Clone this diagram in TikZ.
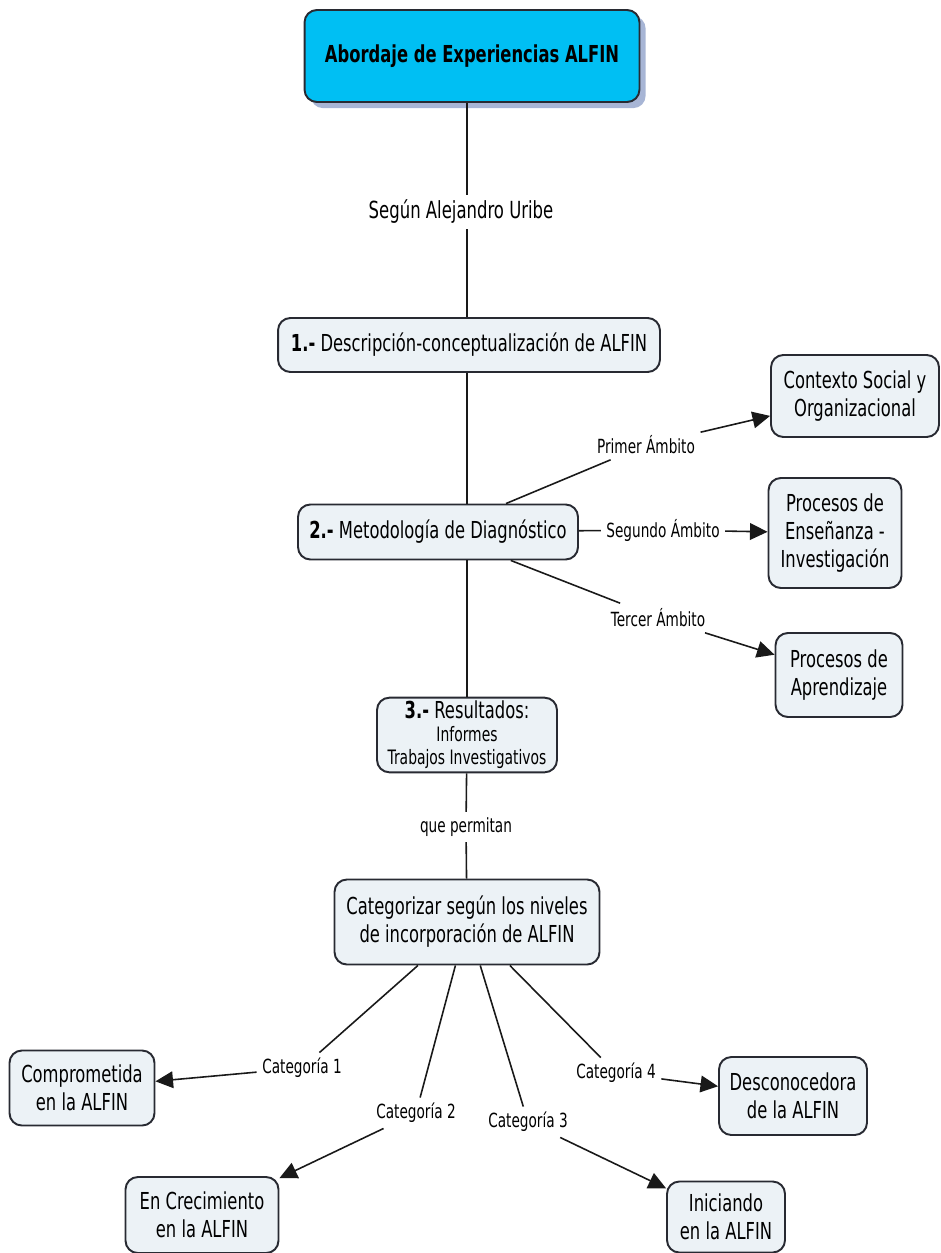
\documentclass[tikz,border=0pt]{standalone}
\usepackage{fontspec}
\setmainfont{DejaVu Sans}[FakeStretch=0.7]
\usetikzlibrary{arrows.meta}
\usetikzlibrary{shadows}

\definecolor{alfincyan}{RGB}{0,191,243}
\definecolor{conceptfill}{RGB}{236,242,246}
\definecolor{conceptline}{RGB}{40,42,50}
\definecolor{linkline}{RGB}{25,25,25}
\definecolor{shadowblue}{RGB}{130,150,195}

\tikzset{
  concept/.style={draw=conceptline, line width=1.1pt, fill=conceptfill,
    rounded corners=7pt, align=center, inner sep=2pt,
    font=\fontsize{13.3}{16}\selectfont},
  rootconcept/.style={concept, fill=alfincyan,
    drop shadow={shadow xshift=3.5pt, shadow yshift=-3.5pt, fill=shadowblue, opacity=0.7},
    font=\bfseries\fontsize{13.3}{16}\selectfont},
  linklabel/.style={inner sep=3pt, font=\fontsize{11.1}{13}\selectfont},
  link/.style={draw=linkline, line width=0.9pt},
  linkarrow/.style={link, -{Triangle[length=10pt,width=9.5pt]}}
}

\begin{document}
\begin{tikzpicture}[x=0.02cm, y=-0.02cm]
%% Concept map : 1 px of the page = 1 unit
\useasboundingbox (0,0) rectangle (940,1253);

%% Link with a label and an arrow
%% 3 params : from, label, to
\newcommand{\linkto}[3]{
\draw[link] (#1) -- (#2);
\draw[linkarrow] (#2) -- (#3);
}

%% main spine
\node[rootconcept, minimum width=6.7cm, minimum height=1.84cm] (root) at (472,56)
  {Abordaje de Experiencias ALFIN};
\node[linklabel, font=\fontsize{13.4}{16}\selectfont] (segun) at (461,212) {Según Alejandro Uribe};
\node[concept, minimum width=7.64cm, minimum height=1.08cm]
  (descripcion) at (469,345) {\textbf{1.-} Descripción-conceptualización de ALFIN};
\node[concept, minimum width=5.6cm, minimum height=1.1cm]
  (metodologia) at (438,532) {\textbf{2.-} Metodología de Diagnóstico};
\node[concept, minimum width=3.6cm, minimum height=1.48cm] (resultados) at (467,735)
  {\textbf{3.-} Resultados:\\[-3pt]
   {\fontsize{11.3}{13}\selectfont Informes}\\[-3pt]
   {\fontsize{11.3}{13}\selectfont Trabajos Investigativos}};
\node[linklabel] (permitan) at (466,827) {que permitan};
\node[concept, minimum width=5.3cm, minimum height=1.7cm] (categorizar) at (467,922)
  {Categorizar según los niveles\\de incorporación de ALFIN};

\coordinate (spine) at (467,0);
\draw[link] (root.south -| spine) -- (segun.north -| spine);
\draw[link] (segun.south -| spine) -- (descripcion.north -| spine);
\draw[link] (descripcion.south -| spine) -- (metodologia.north -| spine);
\draw[link] (metodologia.south -| spine) -- (resultados.north -| spine);
\draw[link] (resultados) -- (permitan);
\draw[link] (permitan) -- (categorizar);

%% ambitos
\node[concept, minimum width=3.36cm, minimum height=1.64cm] (contexto) at (855,396)
  {Contexto Social y\\Organizacional};
\node[concept, minimum width=2.66cm, minimum height=2.2cm] (ensenanza) at (835,533)
  {Procesos de\\Enseñanza -\\Investigación};
\node[concept, minimum width=2.54cm, minimum height=1.68cm] (aprendizaje) at (839,675)
  {Procesos de\\Aprendizaje};
\node[linklabel] (primer) at (646,445) {Primer Ámbito};
\node[linklabel] (segundo) at (663,530) {Segundo Ámbito};
\node[linklabel] (tercer) at (658,618) {Tercer Ámbito};
\linkto{metodologia}{primer}{contexto}
\linkto{metodologia}{segundo}{ensenanza}
\linkto{metodologia}{tercer}{aprendizaje}

%% categorias
\node[concept, minimum width=2.9cm, minimum height=1.5cm] (comprometida) at (82,1088)
  {Comprometida\\en la ALFIN};
\node[concept, minimum width=3.06cm, minimum height=1.52cm] (crecimiento) at (202,1215)
  {En Crecimiento\\en la ALFIN};
\node[concept, minimum width=2.36cm, minimum height=1.42cm] (iniciando) at (726,1217)
  {Iniciando\\en la ALFIN};
\node[concept, minimum width=2.96cm, minimum height=1.56cm] (desconocedora) at (793,1096)
  {Desconocedora\\de la ALFIN};
\node[linklabel] (cat1) at (302,1068) {Categoría 1};
\node[linklabel] (cat2) at (416,1113) {Categoría 2};
\node[linklabel] (cat3) at (528,1122) {Categoría 3};
\node[linklabel] (cat4) at (616,1073) {Categoría 4};
\linkto{categorizar}{cat1}{comprometida}
\linkto{categorizar}{cat2}{crecimiento}
\linkto{categorizar}{cat3}{iniciando}
\linkto{categorizar}{cat4}{desconocedora}
\end{tikzpicture}
\end{document}
